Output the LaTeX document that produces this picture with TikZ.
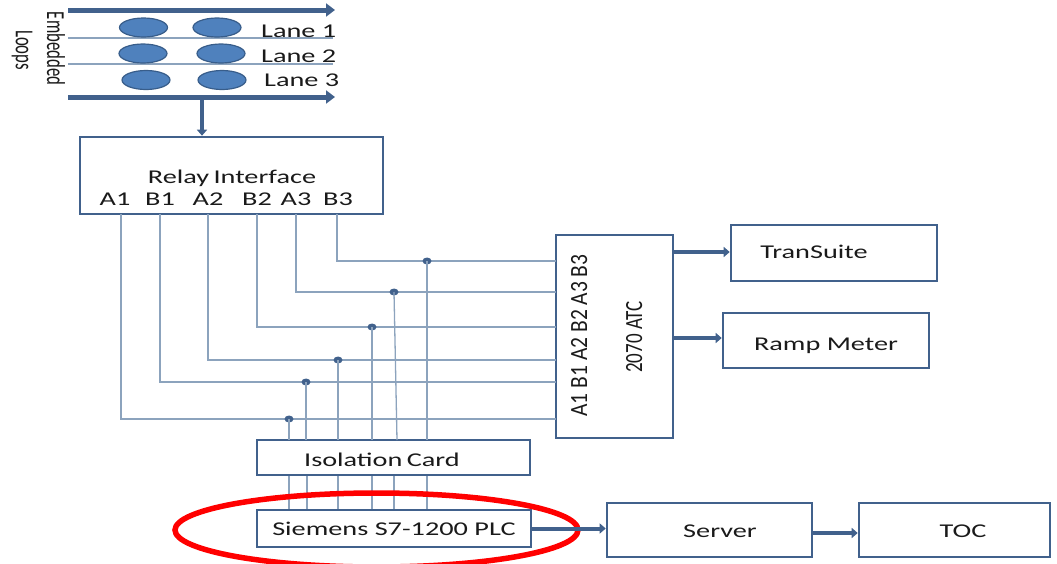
\documentclass[tikz,border=0pt]{standalone}
\usepackage{fontspec}
\usepackage{graphicx}
\setmainfont{Carlito}[FakeStretch=1.45]
\newfontfamily\plainfont{Carlito}
\usetikzlibrary{arrows.meta,shapes.geometric}
\definecolor{boxc}{HTML}{41618C}
\definecolor{wirec}{HTML}{8CA3BD}
\definecolor{loopfill}{HTML}{4F81BD}
\definecolor{loopdraw}{HTML}{385D8A}
\definecolor{txt}{HTML}{1A1A1A}
\tikzset{
  box/.style={draw=boxc, line width=2.6pt, rectangle, inner sep=0pt},
  lbl/.style={font=\fontsize{19.5}{23}\selectfont, text=txt, inner sep=0pt, anchor=base},
  vlbl/.style={font=\plainfont\fontsize{21.5}{25}\selectfont, text=txt, inner sep=0pt, anchor=base, rotate=90},
  sidelbl/.style={font=\plainfont\fontsize{16.7}{20}\selectfont, text=txt, inner sep=0pt, anchor=base, rotate=-90},
  wire/.style={draw=wirec, line width=1.3pt},
  link/.style={draw=boxc, line width=4pt, -{Triangle[length=6pt,width=10pt]}},
  lanearrow/.style={draw=boxc, line width=5pt, -{Triangle[length=9pt,width=13pt]}},
  laneline/.style={draw=wirec, line width=1.2pt},
  loopc/.style={ellipse, draw=loopdraw, fill=loopfill, line width=1.2pt, minimum width=48pt, minimum height=19pt, inner sep=0pt},
  tap/.style={ellipse, fill=boxc, minimum width=9pt, minimum height=7pt, inner sep=0pt},
  ring/.style={ellipse, draw=red, line width=5.5pt, inner sep=0pt}
}
\begin{document}
\begin{tikzpicture}[x=1pt,y=-1pt]
\useasboundingbox (0,0) rectangle (1057,563);
\clip (0,0) rectangle (1057,563);

% lanes
\coordinate (t0) at (68,10);  \coordinate (t1) at (335,10);
\coordinate (b0) at (68,97);  \coordinate (b1) at (335,97);
\coordinate (s10) at (68,38); \coordinate (s11) at (333,38);
\coordinate (s20) at (68,64); \coordinate (s21) at (333,64);
\draw[laneline] (s10) -- (s11);
\draw[laneline] (s20) -- (s21);
\draw[lanearrow] (t0) -- (t1);
\draw[lanearrow] (b0) -- (b1);
\node[loopc] (l1a) at (143.5,27.5) {};
\node[loopc] (l1b) at (217,27.5) {};
\node[loopc] (l2a) at (143,53.5) {};
\node[loopc] (l2b) at (221,53.5) {};
\node[loopc] (l3a) at (146,80) {};
\node[loopc] (l3b) at (222,80) {};
\node[lbl, anchor=base west] (lane1) at (261,37) {Lane 1};
\node[lbl, anchor=base west] (lane2) at (261,62) {Lane 2};
\node[lbl, anchor=base west] (lane3) at (264,86) {Lane 3};
\node[sidelbl] (emb) at (47,48.5) {\scalebox{1}[1.55]{Embedded}};
\node[sidelbl] (loops) at (16,50) {\scalebox{1}[1.55]{Loops}};

% boxes
\node[box, minimum width=303pt, minimum height=77pt] (relay) at (231.5,175.5) {};
\node[box, minimum width=117pt, minimum height=203pt] (atc) at (614.5,336.5) {};
\node[box, minimum width=273pt, minimum height=35pt] (iso) at (393.5,457.5) {};
\node[box, minimum width=274pt, minimum height=37pt] (plc) at (394,528.5) {};
\node[box, minimum width=205pt, minimum height=54pt] (server) at (709.5,530) {};
\node[box, minimum width=191pt, minimum height=54pt] (toc) at (954.5,530) {};
\node[box, minimum width=206pt, minimum height=56pt] (transuite) at (834,253) {};
\node[box, minimum width=206pt, minimum height=55pt] (ramp) at (826,340.5) {};

% labels
\node[lbl] (relaytxt) at (232,183) {Relay\hspace{-2pt} Interface};
\node[lbl] (rA1) at (115,205) {A1};
\node[lbl] (rB1) at (160,205) {B1};
\node[lbl] (rA2) at (208,205) {A2};
\node[lbl] (rB2) at (257,205) {B2};
\node[lbl] (rA3) at (296,205) {A3};
\node[lbl] (rB3) at (338,205) {B3};
\node[vlbl] (atcpins) at (587,335.5) {\scalebox{1}[1.15]{A1 B1 A2 B2 A3 B3}};
\node[vlbl, font=\plainfont\fontsize{19}{22}\selectfont] (atctxt) at (642,337) {\scalebox{1}[1.3]{2070 ATC}};
\node[lbl] (isotxt) at (382,466) {Isolation\hspace{-2pt} Card};
\node[lbl] (plctxt) at (394,535) {Siemens S7-1200 PLC};
\node[lbl] (servertxt) at (720,537) {Server};
\node[lbl] (toctxt) at (963,537) {TOC};
\node[lbl] (tstxt) at (814,258) {TranSuite};
\node[lbl] (ramptxt) at (826,350) {Ramp Meter};

% loops to relay
\coordinate (drop) at (202,97);
\draw[link] (drop) -- (drop |- relay.north);

% relay to ATC wires
\foreach \n/\x/\y in {A1/121/419, B1/160/382, A2/208/360, B2/257/327, A3/296/292, B3/337/261}{
  \coordinate (p\n) at (\x,214);
  \coordinate (q\n) at (556,\y);
  \draw[wire] (p\n) |- (q\n);
}
% taps down to isolation card
\foreach \n/\x/\y/\z in {A1/289/419/289, B1/306/382/306, A2/338/360/338, B2/372/327/372, A3/394/292/397, B3/427/261/427}{
  \node[tap] (d\n) at (\x,\y) {};
  \coordinate (e\n) at (\z,440);
  \draw[wire] (d\n.center) -- (e\n);
}
% isolation card to PLC
\foreach \x in {289,307,338,372,394,427}{
  \coordinate (h) at (\x,0);
  \draw[wire] (iso.south -| h) -- (plc.north -| h);
}

% red ring
\node[ring, minimum width=403pt, minimum height=74pt] (ringc) at (376.5,530) {};

% flow arrows
\draw[link] (plc.east) -- (plc.east -| server.west);
\draw[link] ([yshift=-3pt]server.east) -- ([yshift=-3pt]server.east -| toc.west);
\coordinate (a1) at (673,252);
\coordinate (a2) at (673,338);
\draw[link] (a1) -- (a1 -| transuite.west);
\draw[link] (a2) -- (a2 -| ramp.west);
\end{tikzpicture}
\end{document}
